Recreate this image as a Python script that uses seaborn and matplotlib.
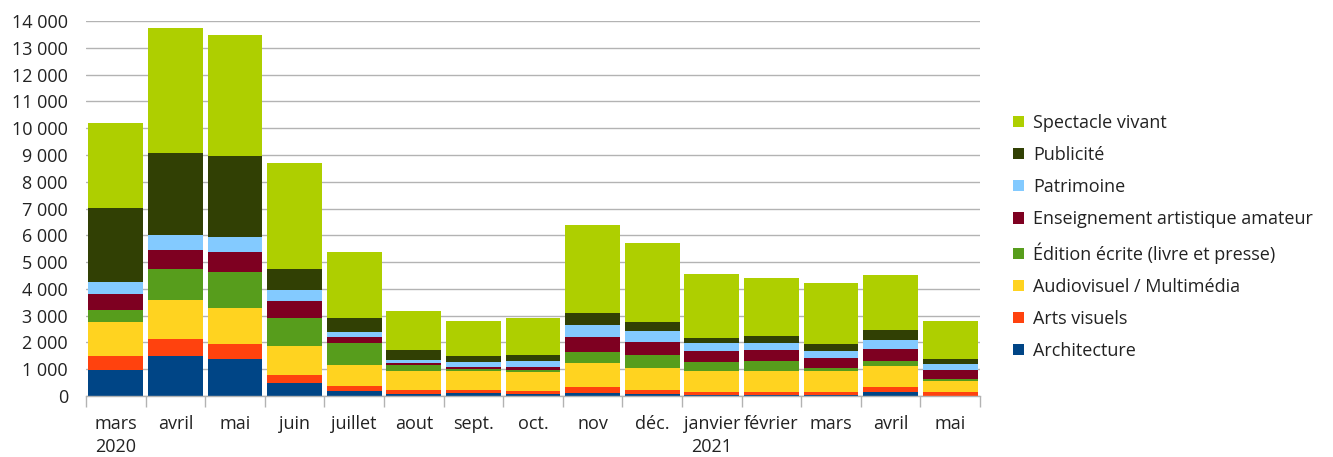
import numpy as np
import pandas as pd
import matplotlib
matplotlib.use("Agg")
import matplotlib.pyplot as plt
import seaborn as sns
from matplotlib.patches import Patch
from matplotlib.ticker import FuncFormatter, FixedLocator

mois = ["2020-03", "2020-04", "2020-05", "2020-06", "2020-07", "2020-08", "2020-09", "2020-10",
        "2020-11", "2020-12", "2021-01", "2021-02", "2021-03", "2021-04", "2021-05"]
mois_labels = ["mars\n2020", "avril", "mai", "juin", "juillet", "aout", "sept.", "oct.",
               "nov", "déc.", "janvier\n2021", "février", "mars", "avril", "mai"]

architecture = [970, 1490, 1380, 470, 200, 90, 100, 60, 110, 75, 40, 40, 40, 150, 10]
arts_visuels = [520, 630, 560, 300, 190, 150, 110, 110, 220, 150, 110, 110, 110, 190, 150]
audiovisuel = [1270, 1460, 1340, 1080, 780, 710, 710, 710, 900, 820, 780, 780, 780, 780, 410]
edition = [450, 1160, 1340, 1080, 820, 220, 75, 75, 410, 490, 340, 370, 110, 190, 75]
enseignement = [600, 710, 750, 600, 220, 80, 75, 110, 560, 490, 410, 410, 370, 450, 340]
patrimoine = [450, 560, 560, 410, 190, 110, 190, 260, 450, 410, 300, 260, 260, 340, 220]
publicite = [2760, 3060, 3020, 820, 520, 340, 220, 190, 450, 340, 190, 260, 280, 370, 190]
spectacle = [3170, 4660, 4520, 3920, 2460, 1490, 1310, 1380, 3280, 2950, 2390, 2160, 2280, 2050, 1420]

secteurs = ["Architecture", "Arts visuels", "Audiovisuel / Multimédia", "Édition écrite (livre et presse)",
            "Enseignement artistique amateur", "Patrimoine", "Publicité", "Spectacle vivant"]
couleurs = ["#004586", "#ff420e", "#ffd320", "#579d1c", "#7e0021", "#83caff", "#314004", "#aecf00"]

df = pd.DataFrame({"mois": mois})
series = [architecture, arts_visuels, audiovisuel, edition, enseignement, patrimoine, publicite, spectacle]
for nom, vals in zip(secteurs, series):
    df[nom] = vals
cumul = df[secteurs].cumsum(axis=1)
cumul["mois"] = mois

sns.set_theme(style="white")
plt.rcParams["font.family"] = ["Open Sans", "DejaVu Sans"]

fig = plt.figure(figsize=(13.33, 4.57), dpi=100)
ax = fig.add_axes([86 / 1333, 1 - 396 / 457, 894 / 1333, 375 / 457])

# empilement: on dessine les cumuls du haut vers le bas
for nom, col in zip(secteurs[::-1], couleurs[::-1]):
    sns.barplot(data=cumul, x="mois", y=nom, order=mois, color=col, saturation=1,
                width=0.92, linewidth=0, errorbar=None, ax=ax)

ax.set_xlim(-0.5, 14.5)
ax.set_ylim(0, 14000)
ax.yaxis.set_major_locator(FixedLocator(np.arange(0, 14001, 1000)))
ax.yaxis.set_major_formatter(FuncFormatter(lambda v, p: f"{int(v):,}".replace(",", " ")))
ax.yaxis.grid(True, color="#b3b3b3", linewidth=1)
ax.set_axisbelow(True)
ax.set_xlabel("")
ax.set_ylabel("")

ax.set_xticks(range(len(mois)))
ax.set_xticklabels(mois_labels, linespacing=1.3)
ax.xaxis.set_minor_locator(FixedLocator(np.arange(-0.5, 15, 1)))
ax.tick_params(axis="x", which="major", length=0, pad=14, labelsize=13, labelcolor="#222222")
ax.tick_params(axis="x", which="minor", length=8, width=1, color="#b3b3b3", bottom=True)
ax.tick_params(axis="y", length=0, pad=13, labelsize=13, labelcolor="#222222")
for lab in ax.get_xticklabels():
    lab.set_verticalalignment("top")

for s in ["left", "top", "right"]:
    ax.spines[s].set_visible(False)
ax.spines["bottom"].set_color("#b3b3b3")
ax.spines["bottom"].set_linewidth(1)

handles = [Patch(facecolor=c, edgecolor="none", label=n) for n, c in zip(secteurs[::-1], couleurs[::-1])]
fig.legend(handles=handles, loc="center left", bbox_to_anchor=(997 / 1333, 1 - 237 / 457),
           frameon=False, fontsize=13, handlelength=0.6, handleheight=0.6,
           handletextpad=0.5, labelspacing=0.78, labelcolor="#222222")

fig.savefig("out.png", dpi=100)
